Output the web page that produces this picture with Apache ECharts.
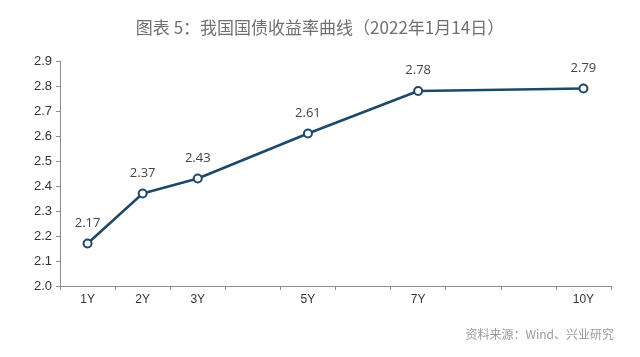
<!DOCTYPE html>
<html><head><meta charset="utf-8">
<script src="https://cdn.jsdelivr.net/npm/echarts@6/dist/echarts.min.js"></script>
<style>html,body{margin:0;padding:0;background:#fff}#c{width:640px;height:357px}</style>
</head><body><div id="c"></div>
<script>
const categories = ['1Y','2Y','3Y','4Y','5Y','6Y','7Y','8Y','9Y','10Y'];
const tickLabels = ['1Y','2Y','3Y','','5Y','','7Y','','','10Y'];
const yields = [2.17, 2.37, 2.43, null, 2.61, null, 2.78, null, null, 2.79];
const titleText = '图表 5：我国国债收益率曲线（2022年1月14日）';
const sourceText = '资料来源：Wind、兴业研究';

const chart = echarts.init(document.getElementById('c'), null, {renderer:'canvas'});
chart.setOption({
  animation:false,
  backgroundColor:'#fff',
  title:{text:titleText,left:'center',top:14,textStyle:{fontFamily:'Noto Sans CJK SC',fontSize:17,fontWeight:'normal',color:'#6f6f6f'}},
  graphic:[{type:'text',right:26,top:328,style:{text:sourceText,font:'12px "Noto Sans CJK SC"',fill:'#9a9a9a'}}],
  grid:{left:60,right:29,top:61,bottom:71},
  xAxis:{type:'category',data:categories,boundaryGap:true,
    axisLine:{lineStyle:{color:'#8c8c8c',width:1}},
    axisTick:{show:true,length:4,lineStyle:{color:'#8c8c8c'}},
    axisLabel:{formatter:(v,i)=>tickLabels[i],interval:0,color:'#333',fontFamily:'Liberation Sans',fontSize:12,margin:8}},
  yAxis:{type:'value',min:2.0,max:2.9,interval:0.1,
    axisLine:{show:true,lineStyle:{color:'#8c8c8c',width:1}},
    axisTick:{show:true,length:4,lineStyle:{color:'#8c8c8c'}},
    splitLine:{show:false},
    axisLabel:{formatter:v=>v.toFixed(1),color:'#333',fontFamily:'Liberation Sans',fontSize:13,margin:8}},
  series:[{type:'line',data:yields,connectNulls:true,
    symbol:'emptyCircle',symbolSize:8,
    lineStyle:{color:'#1d4868',width:2.5},
    itemStyle:{color:'#1d4868',borderColor:'#1d4868',borderWidth:2.5},
    label:{show:true,position:'top',distance:9,color:'#444',fontFamily:'Open Sans',fontSize:13}}]
});
</script></body></html>
